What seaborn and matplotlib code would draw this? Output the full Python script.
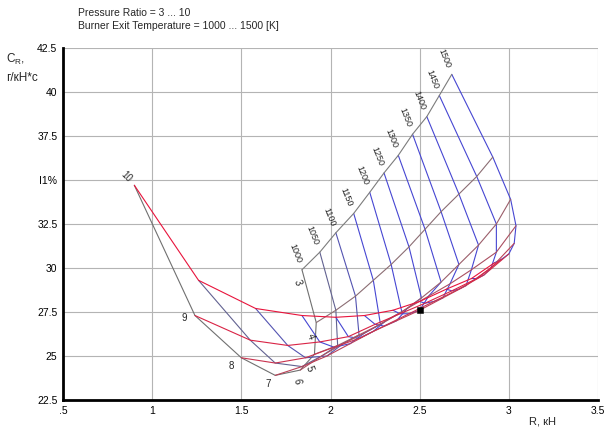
import pandas as pd
import seaborn as sns
import matplotlib.pyplot as plt
from matplotlib.colors import to_rgb

pressure = [3, 4, 5, 6, 7, 8, 9, 10]
temps = [1000, 1050, 1100, 1150, 1200, 1250, 1300, 1350, 1400, 1450, 1500]

# R (kN) and C (g/kN*s) along each pressure-ratio line, T = 1000 ... 1500
r_pi3 = [1.84, 1.94, 2.03, 2.13, 2.22, 2.30, 2.38, 2.46, 2.54, 2.61, 2.68]
c_pi3 = [29.9, 30.9, 32.0, 33.1, 34.3, 35.4, 36.4, 37.6, 38.6, 39.8, 41.0]
r_pi4 = [1.92, 2.03, 2.14, 2.24, 2.34, 2.44, 2.53, 2.62, 2.72, 2.82, 2.91]
c_pi4 = [26.9, 27.6, 28.4, 29.3, 30.2, 31.2, 32.2, 33.2, 34.2, 35.2, 36.3]
r_pi5 = [1.91, 2.04, 2.16, 2.28, 2.40, 2.51, 2.62, 2.72, 2.83, 2.93, 3.01]
c_pi5 = [25.1, 25.6, 26.2, 26.8, 27.5, 28.3, 29.2, 30.2, 31.3, 32.5, 33.9]
r_pi6 = [1.83, 1.95, 2.07, 2.19, 2.31, 2.43, 2.55, 2.67, 2.79, 2.93, 3.04]
c_pi6 = [24.2, 25.0, 25.7, 26.3, 27.0, 27.7, 28.4, 29.1, 29.9, 30.9, 32.4]
r_pi7 = [1.69, 1.84, 1.98, 2.11, 2.24, 2.37, 2.50, 2.63, 2.76, 2.90, 3.03]
c_pi7 = [23.9, 24.4, 25.0, 25.7, 26.4, 27.0, 27.6, 28.3, 29.0, 30.0, 31.4]
r_pi8 = [1.50, 1.69, 1.86, 2.02, 2.16, 2.30, 2.44, 2.58, 2.72, 2.86, 3.00]
c_pi8 = [24.9, 24.6, 24.9, 25.5, 26.0, 26.7, 27.4, 28.1, 28.8, 29.6, 30.8]
r_pi9 = [1.24, 1.55, 1.76, 1.94, 2.10, 2.25, 2.39, 2.53, 2.68, 2.82, 2.96]
c_pi9 = [27.3, 25.9, 25.6, 25.8, 26.1, 26.8, 27.4, 28.0, 28.7, 29.4, 30.5]
r_pi10 = [0.90, 1.26, 1.58, 1.84, 2.03, 2.19, 2.35, 2.50, 2.65, 2.79, 2.92]
c_pi10 = [34.7, 29.3, 27.7, 27.3, 27.2, 27.3, 27.6, 28.1, 28.8, 29.4, 30.3]

design_r = [2.5]
design_c = [27.6]

x_ticks = [0.5, 1, 1.5, 2, 2.5, 3, 3.5]
x_labels = ['.5', '1', '1.5', '2', '2.5', '3', '3.5']
y_ticks = [22.5, 25, 27.5, 30, 32.5, 35, 37.5, 40, 42.5]
y_labels = ['22.5', '25', '27.5', '30', '32.5', 'I1%', '37.5', '40', '42.5']

r_rows = [r_pi3, r_pi4, r_pi5, r_pi6, r_pi7, r_pi8, r_pi9, r_pi10]
c_rows = [c_pi3, c_pi4, c_pi5, c_pi6, c_pi7, c_pi8, c_pi9, c_pi10]

rows = []
for p, rr, cc in zip(pressure, r_rows, c_rows):
    for t, r, c in zip(temps, rr, cc):
        rows.append({'pi': p, 'T': t, 'R': r, 'C': c})
df = pd.DataFrame(rows)


def blend(a, b, f):
    a, b = to_rgb(a), to_rgb(b)
    return tuple(a[i] + (b[i] - a[i]) * f for i in range(3))


# temperature lines go from grey to blue, pressure lines from grey to red
t_pal = {t: blend('#707070', '#4646d2', min(1, i / 3)) for i, t in enumerate(temps)}
pi_pal = {p: blend('#7c7c7c', '#e8143c', i / 7) for i, p in enumerate(pressure)}

sns.set_style('white')
plt.rcParams['font.family'] = ['Liberation Sans', 'DejaVu Sans']

fig = plt.figure(figsize=(6.08, 4.28), dpi=100)
ax = fig.add_axes([0.1036, 0.0654, 0.88, 0.8225])

# lines of constant temperature
sns.lineplot(data=df.sort_values(['T', 'pi']), x='R', y='C', hue='T', units='T',
             palette=t_pal, sort=False, estimator=None, legend=False, lw=0.8, ax=ax)
# lines of constant pressure ratio
sns.lineplot(data=df.sort_values(['pi', 'T']), x='R', y='C', hue='pi', units='pi',
             palette=pi_pal, sort=False, estimator=None, legend=False, lw=0.8, ax=ax)
sns.scatterplot(x=design_r, y=design_c, marker='s', color='black', s=22,
                edgecolor='black', zorder=5, ax=ax)

# labels of the carpet
t1000 = df[df['T'] == 1000].set_index('pi')
pi3 = df[df['pi'] == 3].set_index('T')
for t in temps:
    ax.annotate(str(t), (pi3.loc[t, 'R'], pi3.loc[t, 'C']), xytext=(-5, 4),
                textcoords='offset points', rotation=-68, fontsize=6.5,
                ha='center', va='bottom')
pi_offsets = {3: (-3, -9), 4: (-4, -10), 5: (-4, -10), 6: (-2, -8),
              7: (-5, -6), 8: (-7, -6), 9: (-8, -2), 10: (-6, 6)}
pi_rot = {3: -70, 4: -70, 5: -70, 6: -80, 7: 0, 8: 0, 9: 0, 10: -45}
for p in pressure:
    ax.annotate(str(p), (t1000.loc[p, 'R'], t1000.loc[p, 'C']), xytext=pi_offsets[p],
                textcoords='offset points', rotation=pi_rot[p], fontsize=7,
                ha='center', va='center')

ax.set_xlim(0.5, 3.5)
ax.set_ylim(22.5, 42.5)
ax.set_xticks(x_ticks)
ax.set_xticklabels(x_labels)
ax.set_yticks(y_ticks)
ax.set_yticklabels(y_labels)
ax.grid(True, color='#b4b4b4', lw=0.8)
ax.set_axisbelow(True)
ax.set_xlabel('')
ax.set_ylabel('')
for s in ['top', 'right']:
    ax.spines[s].set_visible(False)
for s in ['left', 'bottom']:
    ax.spines[s].set_linewidth(2)
    ax.spines[s].set_color('black')
ax.tick_params(direction='out', length=3, width=1, labelsize=7.5, colors='black', pad=1)

fig.text(0.128, 0.970, 'Pressure Ratio = 3 ... 10', fontsize=7.5, va='center')
fig.text(0.128, 0.940, 'Burner Exit Temperature = 1000 ... 1500 [K]', fontsize=7.5, va='center')
fig.text(0.010, 0.860, 'C$_{\\mathregular{R}}$,', fontsize=8.5, va='center')
fig.text(0.010, 0.818, 'г/кН*с', fontsize=8.5, va='center')
fig.text(0.870, 0.015, 'R, кН', fontsize=8, va='center')

plt.savefig('out.png', dpi=100)
